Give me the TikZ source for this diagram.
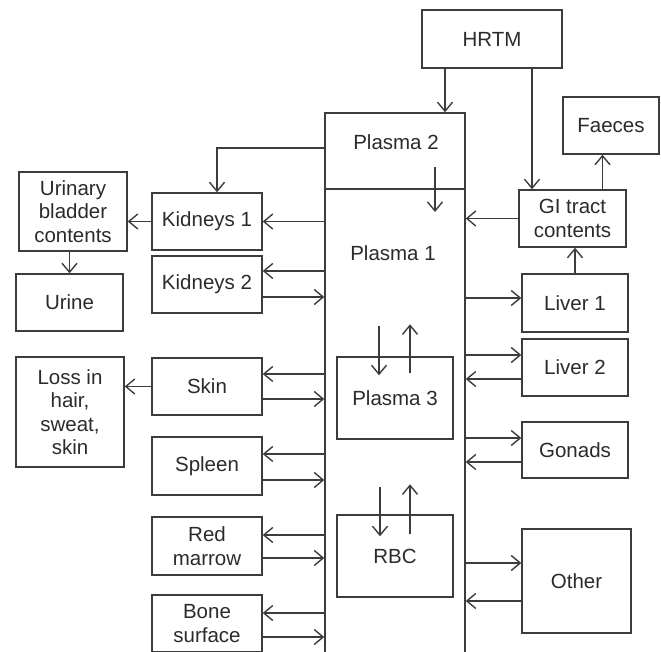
\documentclass[tikz,border=0pt]{standalone}
\usepackage{fontspec}
\setmainfont{Liberation Sans}
\usetikzlibrary{arrows.meta}
\definecolor{linegray}{HTML}{3C3C3C}
\definecolor{textgray}{HTML}{2B2B2B}

\begin{document}
\begin{tikzpicture}[x=1pt,y=-1pt]
\tikzset{box/.style = {draw=linegray, line width=1.4pt, text=textgray, align=center, inner sep=0pt, font=\fontsize{20.5}{23.5}\selectfont}}
\tikzset{tag/.style = {text=textgray, inner sep=0pt, font=\fontsize{20.5}{23.5}\selectfont}}
\tikzset{wall/.style = {draw=linegray, line width=1.4pt}}
\tikzset{flow/.style = {draw=linegray, line width=1.4pt, -{Straight Barb[length=9pt,width=15pt]}}}
\useasboundingbox (0,0) rectangle (661,652);
\fill[white] (0,0) rectangle (661,652);
\clip (0,0) rectangle (661,652);
% plasma column
\node[box, minimum width=140, minimum height=549] (plasma) at (395,387.5) {};
\coordinate (split) at (395,189);
\draw[wall] (split -| plasma.west) -- (split -| plasma.east);
\node[tag] (p2) at (396,142) {Plasma 2};
\node[tag] (p1) at (393,253) {Plasma 1};
\node[box, minimum width=116, minimum height=82] (plasma3) at (395,398) {\raisebox{-8pt}{Plasma 3}};
\node[box, minimum width=116, minimum height=82] (rbc) at (395,556) {RBC};
\coordinate (p2out) at (435,167);
\coordinate (p1in) at (435,212);
% right side
\node[box, minimum width=140, minimum height=58] (hrtm) at (492,39) {HRTM};
\node[box, minimum width=96, minimum height=57] (faeces) at (611,125.5) {Faeces};
\node[box, minimum width=107, minimum height=57] (gi) at (572.5,218.5) {GI tract\\contents};
\node[box, minimum width=106, minimum height=58] (liver1) at (575,303) {Liver 1};
\node[box, minimum width=106, minimum height=57] (liver2) at (575,367.5) {Liver 2};
\node[box, minimum width=106, minimum height=56] (gonads) at (575,450) {Gonads};
\node[box, minimum width=109, minimum height=104] (other) at (576.5,581) {Other};
% left side
\node[box, minimum width=108, minimum height=79] (bladder) at (73,211.5) {Urinary\\bladder\\contents};
\node[box, minimum width=107, minimum height=57] (urine) at (69.5,302.5) {Urine};
\node[box, minimum width=108, minimum height=110] (loss) at (70,412) {Loss in\\hair,\\sweat,\\skin};
\node[box, minimum width=110, minimum height=57] (kidneys1) at (207,221.5) {Kidneys 1};
\node[box, minimum width=110, minimum height=57] (kidneys2) at (207,284.5) {Kidneys 2};
\node[box, minimum width=110, minimum height=57] (skin) at (207,386.5) {Skin};
\node[box, minimum width=110, minimum height=58] (spleen) at (207,466) {Spleen};
\node[box, minimum width=110, minimum height=58] (marrow) at (207,546) {Red\\marrow};
\node[box, minimum width=110, minimum height=57] (bone) at (207,623.5) {Bone\\surface};
% inside plasma
\draw[flow] (p2out) -- (p1in);
\draw[flow] ([xshift=-16pt,yshift=30pt]plasma3.north) -- ([xshift=-16pt,yshift=-19pt]plasma3.north);
\draw[flow] ([xshift=15pt,yshift=-17pt]plasma3.north) -- ([xshift=15pt,yshift=32pt]plasma3.north);
\draw[flow] ([xshift=-15pt,yshift=27pt]rbc.north) -- ([xshift=-15pt,yshift=-22pt]rbc.north);
\draw[flow] ([xshift=15pt,yshift=-20pt]rbc.north) -- ([xshift=15pt,yshift=30pt]rbc.north);
% intake and gut
\draw[flow] ([xshift=-47pt]hrtm.south) -- ([xshift=-47pt]hrtm.south |- plasma.north);
\draw[flow] ([xshift=40pt]hrtm.south) -- ([xshift=40pt]hrtm.south |- gi.north);
\draw[flow] ([xshift=30pt]gi.north) -- ([xshift=30pt]gi.north |- faeces.south);
\draw[flow] (gi.west) -- (gi.west -| plasma.east);
\draw[flow] (liver1.north) -- (liver1.north |- gi.south);
\draw[flow] (plasma.east |- 0,298) -- (liver1.west |- 0,298);
% right organs
\draw[flow] (plasma.east |- 0,355) -- (liver2.west |- 0,355);
\draw[flow] (liver2.west |- 0,379) -- (plasma.east |- 0,379);
\draw[flow] (plasma.east |- 0,438) -- (gonads.west |- 0,438);
\draw[flow] (gonads.west |- 0,462) -- (plasma.east |- 0,462);
\draw[flow] (plasma.east |- 0,563) -- (other.west |- 0,563);
\draw[flow] (other.west |- 0,601) -- (plasma.east |- 0,601);
% kidneys and excretion
\draw[flow] (plasma.west |- 0,148) -| ([xshift=10pt]kidneys1.north);
\draw[flow] (kidneys1.east -| plasma.west) -- (kidneys1.east);
\draw[flow] (kidneys1.west) -- (kidneys1.west -| bladder.east);
\draw[flow] (urine.north |- bladder.south) -- (urine.north);
\draw[flow] (plasma.west |- 0,271) -- (kidneys2.east |- 0,271);
\draw[flow] (kidneys2.east |- 0,297) -- (plasma.west |- 0,297);
% left organs
\draw[flow] (plasma.west |- 0,374) -- (skin.east |- 0,374);
\draw[flow] (skin.east |- 0,399) -- (plasma.west |- 0,399);
\draw[flow] (skin.west) -- (skin.west -| loss.east);
\draw[flow] (plasma.west |- 0,454) -- (spleen.east |- 0,454);
\draw[flow] (spleen.east |- 0,480) -- (plasma.west |- 0,480);
\draw[flow] (plasma.west |- 0,535) -- (marrow.east |- 0,535);
\draw[flow] (marrow.east |- 0,558) -- (plasma.west |- 0,558);
\draw[flow] (plasma.west |- 0,613) -- (bone.east |- 0,613);
\draw[flow] (bone.east |- 0,637) -- (plasma.west |- 0,637);
\end{tikzpicture}
\end{document}
